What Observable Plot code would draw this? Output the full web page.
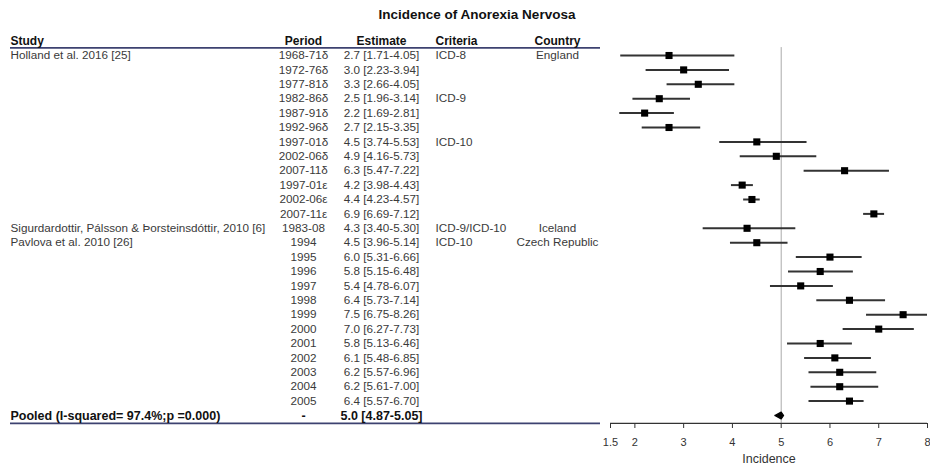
<!DOCTYPE html>
<html>
<head>
<meta charset="utf-8">
<script src="https://cdn.jsdelivr.net/npm/d3@7"></script>
<script src="https://cdn.jsdelivr.net/npm/@observablehq/plot@0.6"></script>
<style>
  html, body { margin: 0; padding: 0; background: #fff; }
  #wrap { width: 930px; height: 467px; overflow: hidden; font-family: "Liberation Sans", Arial, sans-serif; }
  #title { position: relative; height: 30px; }
  #title span { position: absolute; left: 477px; top: 7px; transform: translateX(-50%);
    font-weight: bold; font-size: 13.5px; color: #111; white-space: nowrap; }
  #row { display: flex; }
  #row svg { display: block; }
</style>
</head>
<body>
<div id="wrap">
  <div id="title"><span>Incidence of Anorexia Nervosa</span></div>
  <div id="row"></div>
</div>
<script>
// Study rows: incidence per 100,000 with 95% confidence intervals
const periods = ["1968-71δ","1972-76δ","1977-81δ","1982-86δ","1987-91δ","1992-96δ","1997-01δ","2002-06δ","2007-11δ","1997-01ε","2002-06ε","2007-11ε","1983-08","1994","1995","1996","1997","1998","1999","2000","2001","2002","2003","2004","2005"];
const estimates = [2.7,3.0,3.3,2.5,2.2,2.7,4.5,4.9,6.3,4.2,4.4,6.9,4.3,4.5,6.0,5.8,5.4,6.4,7.5,7.0,5.8,6.1,6.2,6.2,6.4];
const lows = [1.71,2.23,2.66,1.96,1.69,2.15,3.74,4.16,5.47,3.98,4.23,6.69,3.40,3.96,5.31,5.15,4.78,5.73,6.75,6.27,5.13,5.48,5.57,5.61,5.57];
const highs = [4.05,3.94,4.05,3.14,2.81,3.35,5.53,5.73,7.22,4.43,4.57,7.12,5.30,5.14,6.66,6.48,6.07,7.14,8.26,7.73,6.46,6.85,6.96,7.00,6.70];

// Labels that appear only on the first row of a group
const studyLabels = [
  {row: 0, text: "Holland et al. 2016 [25]"},
  {row: 12, text: "Sigurdardottir, Pálsson & Þorsteinsdóttir, 2010 [6]"},
  {row: 13, text: "Pavlova et al. 2010 [26]"}
];
const criteriaLabels = [
  {row: 0, text: "ICD-8"},
  {row: 3, text: "ICD-9"},
  {row: 6, text: "ICD-10"},
  {row: 12, text: "ICD-9/ICD-10"},
  {row: 13, text: "ICD-10"}
];
const countryLabels = [
  {row: 0, text: "England"},
  {row: 12, text: "Iceland"},
  {row: 13, text: "Czech Republic"}
];

// Pooled random-effects estimate
const pooledLabel = "Pooled (I-squared= 97.4%;p =0.000)";
const pooledPeriod = "-";
const pooledEstimate = 5.0, pooledLow = 4.87, pooledHigh = 5.05;

const xTicks = [1.5, 2, 3, 4, 5, 6, 7, 8];

const fmt = (e, lo, hi) => `${e.toFixed(1)} [${lo.toFixed(2)}-${hi.toFixed(2)}]`;
const rows = periods.map((p, i) => ({
  i, period: p, est: estimates[i], lo: lows[i], hi: highs[i],
  label: fmt(estimates[i], lows[i], highs[i])
}));
const pooledY = rows.length;
const pooledRow = [{i: pooledY, label: fmt(pooledEstimate, pooledLow, pooledHigh)}];

// Shared row layout
const yScale = {domain: [0, 25], range: [25, 385], axis: null};
const font = "'Liberation Sans', Arial, sans-serif";
const txt = "#3a3a3a";
const navy = "#3d4270";
const bodySize = 11.7;

// Column layout of the table (x is in pixels)
const cols = {study: 10, period: 303, estimate: 381, criteria: 435, country: 557};
const headersStart = [
  {text: "Study", x: cols.study},
  {text: "Criteria", x: cols.criteria}
];
const headersMiddle = [
  {text: "Period", x: cols.period},
  {text: "Estimate", x: cols.estimate},
  {text: "Country", x: cols.country}
];

const table = Plot.plot({
  width: 600, height: 437, margin: 0,
  x: {type: "identity", axis: null},
  y: yScale,
  style: {fontFamily: font, fontSize: `${bodySize}px`, background: "transparent"},
  marks: [
    Plot.ruleY([-0.53], {x1: cols.study, x2: 600, stroke: navy, strokeWidth: 1.6}),
    Plot.ruleY([pooledY + 0.55], {x1: cols.study, x2: 600, stroke: navy, strokeWidth: 1.6}),
    Plot.text(headersStart, {x: "x", y: () => -1, text: "text", textAnchor: "start", fontWeight: "bold", fontSize: 12, fill: "#111"}),
    Plot.text(headersMiddle, {x: "x", y: () => -1, text: "text", textAnchor: "middle", fontWeight: "bold", fontSize: 12, fill: "#111"}),
    Plot.text(studyLabels, {x: cols.study, y: "row", text: "text", textAnchor: "start", fill: txt}),
    Plot.text(rows, {x: cols.period, y: "i", text: "period", textAnchor: "middle", fill: txt}),
    Plot.text(rows, {x: cols.estimate, y: "i", text: "label", textAnchor: "middle", fill: txt}),
    Plot.text(criteriaLabels, {x: cols.criteria, y: "row", text: "text", textAnchor: "start", fill: txt}),
    Plot.text(countryLabels, {x: cols.country, y: "row", text: "text", textAnchor: "middle", fill: txt}),
    Plot.text([pooledLabel], {x: cols.study, y: () => pooledY, text: d => d, textAnchor: "start", fontWeight: "bold", fontSize: 12.5, fill: "#111"}),
    Plot.text([pooledPeriod], {x: cols.period, y: () => pooledY, text: d => d, textAnchor: "middle", fontWeight: "bold", fontSize: 12.5, fill: "#111"}),
    Plot.text(pooledRow, {x: cols.estimate, y: "i", text: "label", textAnchor: "middle", fontWeight: "bold", fontSize: 12.5, fill: "#111"})
  ]
});

// Pooled diamond outline
const dh = 0.24;
const diamond = [
  {x: pooledLow, y: pooledY},
  {x: pooledEstimate, y: pooledY - dh},
  {x: pooledHigh, y: pooledY},
  {x: pooledEstimate, y: pooledY + dh},
  {x: pooledLow, y: pooledY}
];

const forest = Plot.plot({
  width: 330, height: 437,
  marginLeft: 10, marginRight: 3, marginTop: 0, marginBottom: 44,
  x: {domain: [1.5, 8]},
  y: yScale,
  style: {fontFamily: font, fontSize: "11px", color: "#333", background: "transparent"},
  marks: [
    Plot.ruleX([pooledEstimate], {y1: -0.55, y2: pooledY + 0.55, stroke: "#aaa", strokeWidth: 1}),
    Plot.ruleY(rows, {y: "i", x1: "lo", x2: "hi", stroke: "#333", strokeWidth: 2, clip: true}),
    Plot.dot(rows, {x: "est", y: "i", symbol: "square", r: 4, fill: "#000", stroke: null}),
    Plot.line(diamond, {x: "x", y: "y", fill: "#000", stroke: "#000", strokeWidth: 1.2}),
    Plot.ruleY([pooledY + 0.55], {x1: xTicks[0], x2: xTicks[xTicks.length - 1], stroke: "#333", strokeWidth: 1.2}),
    Plot.axisX({
      ticks: xTicks, tickSize: 5, tickPadding: 10, tickFormat: d => String(d),
      label: null, fill: "#333", stroke: "#333"
    }),
    Plot.axisX({
      ticks: [], label: "Incidence", labelAnchor: "center", labelArrow: "none", labelOffset: 39,
      fontSize: 12.5, fill: "#333"
    })
  ]
});

const row = document.getElementById("row");
row.appendChild(table);
row.appendChild(forest);
</script>
</body>
</html>
